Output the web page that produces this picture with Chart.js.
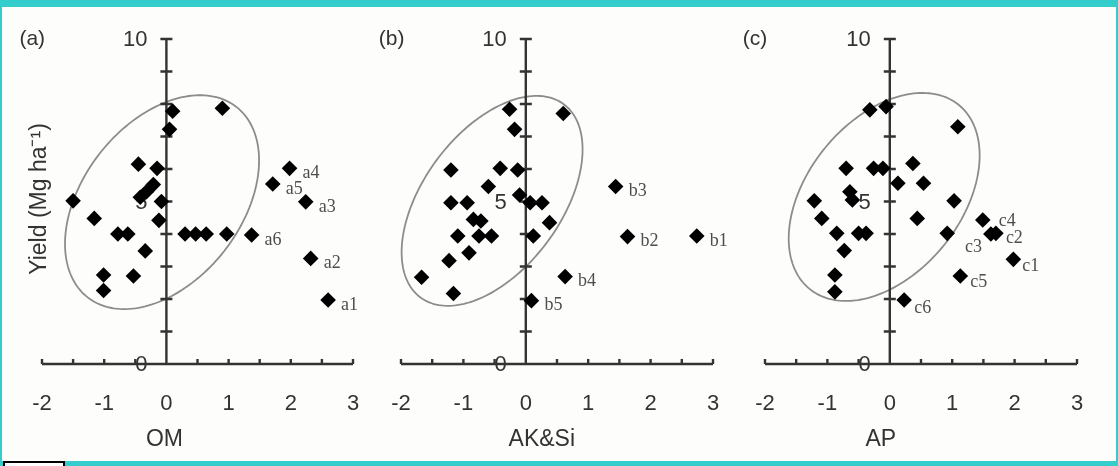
<!DOCTYPE html>
<html>
<head>
<meta charset="utf-8">
<script src="https://cdn.jsdelivr.net/npm/chart.js@4.4.1/dist/chart.umd.min.js"></script>
<style>
  html, body { margin: 0; padding: 0; }
  body { width: 1118px; height: 466px; background: #35cccc; position: relative; overflow: hidden; }
  #sheet { position: absolute; left: 2px; top: 7px; width: 1114px; height: 454px; background: #fdfdfb; }
  #tag { position: absolute; left: 3px; top: 461px; width: 58px; height: 10px; border: 2px solid #000; background: #fff; }
  canvas { position: absolute; left: 0; top: 0; }
</style>
</head>
<body>
<div id="sheet"></div>
<div id="tag"></div>
<canvas id="chartA" width="1118" height="466"></canvas>
<canvas id="chartB" width="1118" height="466"></canvas>
<canvas id="chartC" width="1118" height="466"></canvas>
<script>
// tick labels and titles
const xTickLabels = [-2, -1, 0, 1, 2, 3];
const yTickLabels = [0, 5, 10];
const panelLetters = ["(a)", "(b)", "(c)"];
const axisTitles = ["OM", "AK&Si", "AP"];
const yTitle = "Yield (Mg ha⁻¹)";

// (a) OM
const omX = [0.10, 0.90, 0.05, -0.45, -0.15, -0.21, -0.32, -0.42, -0.08, -1.50, -1.16, -0.12, -0.78, -0.62, -0.34, -1.01, -0.53, -1.01, 0.30, 0.47, 0.64, 0.97, 1.37, 1.98, 1.71, 2.24, 2.32, 2.60];
const omY = [7.78, 7.87, 7.22, 6.15, 6.02, 5.52, 5.30, 5.13, 5.00, 5.02, 4.48, 4.42, 4.00, 4.00, 3.48, 2.74, 2.71, 2.26, 4.00, 4.00, 4.00, 4.00, 3.97, 6.02, 5.54, 4.99, 3.25, 1.97];
const omNames = ["", "", "", "", "", "", "", "", "", "", "", "", "", "", "", "", "", "", "", "", "", "", "a6", "a4", "a5", "a3", "a2", "a1"];
const omEllipse = [-0.07, 4.98, 1.56, 3.29, 0.39]; // centre x, centre y, sd x, sd y, r

// (b) AK&Si
const akX = [-0.26, 0.60, -0.18, -1.20, -0.41, -0.13, -0.60, -0.10, -1.20, -0.94, 0.07, 0.26, 0.38, -0.84, -0.72, -1.09, -0.75, -0.55, 0.12, -0.91, -1.23, -1.67, -1.16, 2.74, 1.63, 1.44, 0.63, 0.09];
const akY = [7.84, 7.71, 7.22, 5.97, 6.02, 5.97, 5.46, 5.20, 4.96, 4.96, 4.96, 4.96, 4.35, 4.45, 4.40, 3.94, 3.94, 3.94, 3.94, 3.42, 3.18, 2.67, 2.17, 3.94, 3.92, 5.46, 2.69, 1.95];
const akNames = ["", "", "", "", "", "", "", "", "", "", "", "", "", "", "", "", "", "", "", "", "", "", "", "b1", "b2", "b3", "b4", "b5"];
const akEllipse = [-0.54, 5.02, 1.45, 3.23, 0.49];

// (c) AP
const apX = [-0.32, -0.06, 1.09, -0.70, -0.26, -0.11, 0.37, 0.13, 0.54, -0.64, -0.60, -1.21, 1.03, -1.09, 0.44, -0.85, -0.50, -0.38, 0.92, -0.73, -0.88, -0.88, 1.49, 1.62, 1.70, 1.98, 1.13, 0.23];
const apY = [7.82, 7.92, 7.30, 6.02, 6.02, 6.02, 6.17, 5.56, 5.56, 5.30, 5.05, 5.02, 5.02, 4.48, 4.48, 4.02, 4.02, 4.02, 4.02, 3.49, 2.74, 2.22, 4.43, 4.00, 4.02, 3.22, 2.71, 1.97];
const apNames = ["", "", "", "", "", "", "", "", "", "", "", "", "", "", "", "", "", "", "", "", "", "", "c4", "c3", "c2", "c1", "c5", "c6"];
const apEllipse = [-0.09, 5.14, 1.53, 3.20, 0.40];

const axisColor = "#333";
const textColor = "#333";

// draws the crossed axes, the ellipse and the labels
const panelPlugin = {
  id: "panel",
  beforeDatasetsDraw(chart, args, opts) {
    const { ctx } = chart;
    const xs = chart.scales.x, ys = chart.scales.y;
    const x0 = xs.getPixelForValue(0), y0 = ys.getPixelForValue(0);
    ctx.save();

    // ellipse
    const [cx, cy, sx, sy, r] = opts.ellipse;
    ctx.beginPath();
    for (let i = 0; i <= 180; i++) {
      const t = i / 180 * 2 * Math.PI;
      const vx = cx + sx * Math.cos(t);
      const vy = cy + sy * (r * Math.cos(t) + Math.sqrt(1 - r * r) * Math.sin(t));
      const px = xs.getPixelForValue(vx), py = ys.getPixelForValue(vy);
      if (i === 0) ctx.moveTo(px, py); else ctx.lineTo(px, py);
    }
    ctx.closePath();
    ctx.strokeStyle = "#8c8c8c";
    ctx.lineWidth = 1.8;
    ctx.stroke();

    // axes
    ctx.strokeStyle = axisColor;
    ctx.lineWidth = 2.4;
    ctx.beginPath();
    ctx.moveTo(x0, ys.getPixelForValue(10));
    ctx.lineTo(x0, y0);
    for (let v = 1; v <= 10; v++) {
      const py = ys.getPixelForValue(v);
      ctx.moveTo(x0 - 6, py);
      ctx.lineTo(x0 + 6, py);
    }
    ctx.moveTo(xs.getPixelForValue(-2), y0);
    ctx.lineTo(xs.getPixelForValue(3), y0);
    for (let v = -2; v <= 3; v += 0.5) {
      const px = xs.getPixelForValue(v);
      ctx.moveTo(px, y0);
      ctx.lineTo(px, y0 - 5);
    }
    ctx.stroke();

    // tick labels
    ctx.fillStyle = textColor;
    ctx.font = "22px 'Liberation Sans', Arial, sans-serif";
    ctx.textAlign = "center";
    ctx.textBaseline = "middle";
    xTickLabels.forEach(v => ctx.fillText(String(v), xs.getPixelForValue(v), y0 + 40));
    ctx.textAlign = "right";
    yTickLabels.forEach(v => ctx.fillText(String(v), x0 - 19, ys.getPixelForValue(v) + 1));

    // panel letter and axis title
    ctx.textAlign = "left";
    ctx.font = "21px 'Liberation Sans', Arial, sans-serif";
    ctx.fillText(opts.letter, x0 - 147, ys.getPixelForValue(10));
    ctx.textAlign = "center";
    ctx.font = "23px 'Liberation Sans', Arial, sans-serif";
    ctx.fillText(opts.title, x0 + opts.titleShift, y0 + 76);

    if (opts.yTitle) {
      ctx.save();
      ctx.translate(40, 199);
      ctx.rotate(-Math.PI / 2);
      ctx.font = "23px 'Liberation Sans', Arial, sans-serif";
      ctx.fillText(opts.yTitle, 0, 0);
      ctx.restore();
    }
    ctx.restore();
  },
  afterDatasetsDraw(chart, args, opts) {
    const { ctx } = chart;
    const meta = chart.getDatasetMeta(0);
    ctx.save();
    ctx.fillStyle = "#4d4d4d";
    ctx.font = "18px 'Liberation Serif', 'Times New Roman', serif";
    ctx.textAlign = "left";
    ctx.textBaseline = "middle";
    opts.names.forEach((name, i) => {
      if (!name) return;
      const pt = meta.data[i];
      const shift = (opts.shifts && opts.shifts[name]) || [13, 5];
      ctx.fillText(name, pt.x + shift[0], pt.y + shift[1]);
    });
    ctx.restore();
  }
};

function makePanel(id, xv, yv, names, ellipse, left, right, extra) {
  new Chart(document.getElementById(id), {
    type: "scatter",
    data: {
      datasets: [{
        data: xv.map((v, i) => ({ x: v, y: yv[i] })),
        pointStyle: "rectRot",
        pointRadius: 7.8,
        pointHoverRadius: 7.8,
        backgroundColor: "#000",
        borderColor: "#000",
        borderWidth: 0,
        clip: false
      }]
    },
    options: {
      responsive: false,
      maintainAspectRatio: false,
      animation: false,
      events: [],
      layout: { padding: { left: left, right: 1118 - right, top: 39, bottom: 102 } },
      scales: {
        x: { type: "linear", min: -2, max: 3, display: false },
        y: { type: "linear", min: 0, max: 10, display: false }
      },
      plugins: {
        legend: { display: false },
        tooltip: { enabled: false },
        panel: Object.assign({ names: names, ellipse: ellipse }, extra)
      }
    },
    plugins: [panelPlugin]
  });
}

makePanel("chartA", omX, omY, omNames, omEllipse, 42, 353,
  { letter: panelLetters[0], title: axisTitles[0], titleShift: -2, yTitle: yTitle });
makePanel("chartB", akX, akY, akNames, akEllipse, 401, 713,
  { letter: panelLetters[1], title: axisTitles[1], titleShift: 16 });
makePanel("chartC", apX, apY, apNames, apEllipse, 765, 1077,
  { letter: panelLetters[2], title: axisTitles[2], titleShift: -9,
    shifts: { c3: [-26, 13], c2: [10, 5], c4: [16, 1], c1: [9, 7], c5: [10, 6], c6: [10, 8] } });
</script>
</body>
</html>
